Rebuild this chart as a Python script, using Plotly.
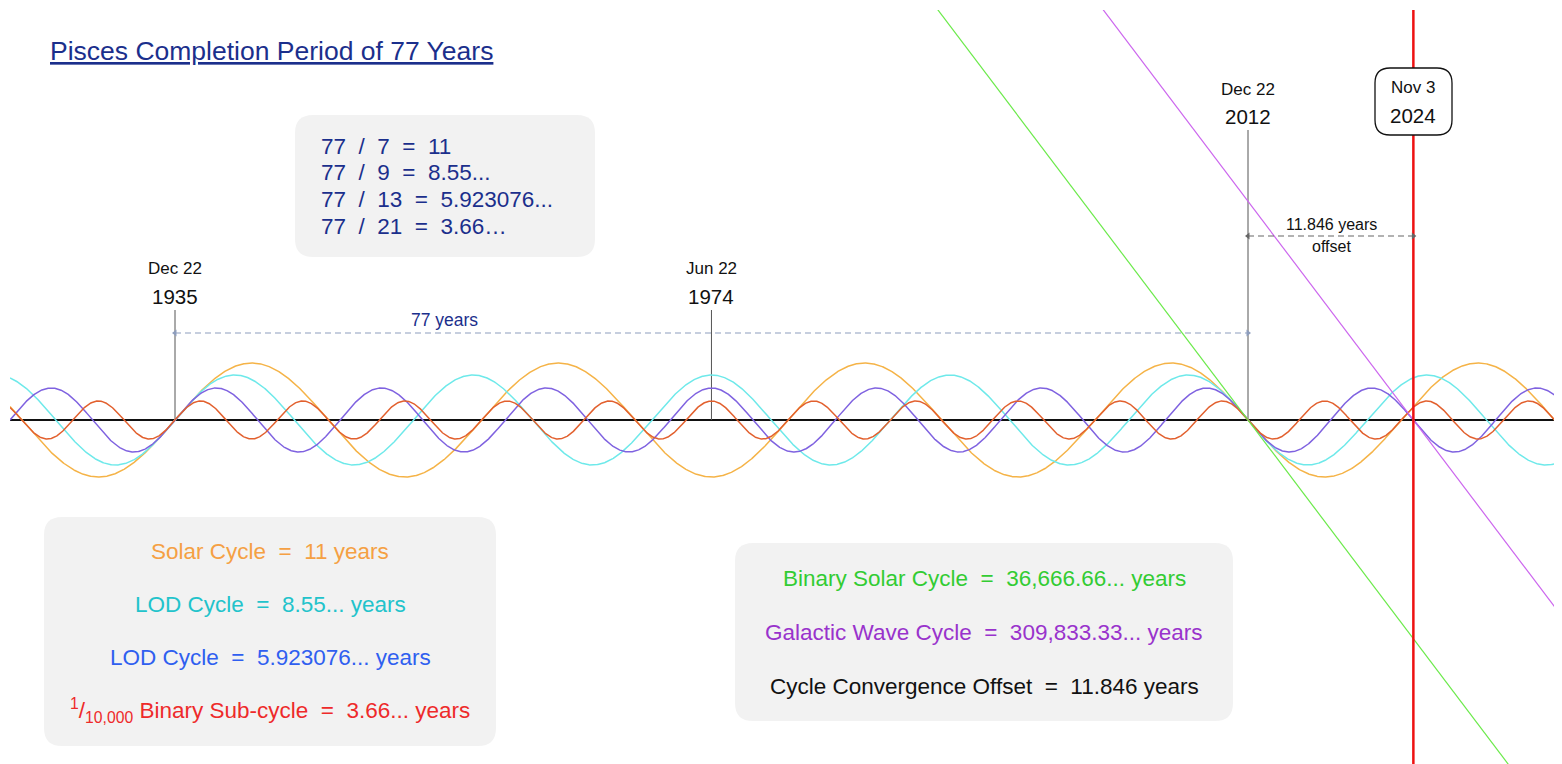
import plotly.graph_objects as go
import numpy as np

# cycle waves (half period in years = one "cycle" on the chart)
wave_names = ["Solar Cycle", "LOD Cycle", "LOD Cycle", "Binary Sub-cycle"]
half_periods = [77 / 7, 77 / 9, 77 / 13, 77 / 21]
amplitudes = [57, 45, 32, 19]
wave_colors = ["#f5b347", "#6ee9ea", "#7f62e0", "#e2602e"]

# key dates (decimal years)
start_year = 1935.973
event_years = [1935.973, 1974.47, 2012.973, 2024.84]
event_days = ["Dec 22", "Jun 22", "Dec 22", "Nov 3"]
event_labels = ["1935", "1974", "2012", "2024"]

# slow cycles drawn as straight lines crossing zero at 2012 and 2024
diag_cross = [2012.973, 2024.84]
diag_slope = -18.43
diag_colors = ["#6bea4a", "#cc66ee"]

formula_lines = ["77  /  7  =  11", "77  /  9  =  8.55...", "77  /  13  =  5.923076...",
                 "77  /  21  =  3.66…"]
left_legend = ["Solar Cycle  =  11 years", "LOD Cycle  =  8.55... years",
               "LOD Cycle  =  5.923076... years",
               "<sup>1</sup>/<sub>10,000</sub> Binary Sub-cycle  =  3.66... years"]
left_colors = ["#f5a043", "#22c3cb", "#2f5ff0", "#ee2a2a"]
right_legend = ["Binary Solar Cycle  =  36,666.66... years",
                "Galactic Wave Cycle  =  309,833.33... years",
                "Cycle Convergence Offset  =  11.846 years"]
right_colors = ["#33cc33", "#9933cc", "#111111"]

# pixel helpers (plot area is 10..1562 x 10..764 on the page)
SCALE = 1073 / 77.0


def yr(px):
    return start_year + (px - 175) / SCALE


def yv(py):
    return 420 - py


def nb(s):
    return s.replace("  ", "\u00a0\u00a0")


def rounded(x0, y0, x1, y1, r):
    pts = [("M", [(x0 + r, y0)]), ("L", [(x1 - r, y0)]), ("Q", [(x1, y0), (x1, y0 + r)]),
           ("L", [(x1, y1 - r)]), ("Q", [(x1, y1), (x1 - r, y1)]), ("L", [(x0 + r, y1)]),
           ("Q", [(x0, y1), (x0, y1 - r)]), ("L", [(x0, y0 + r)]), ("Q", [(x0, y0), (x0 + r, y0)])]
    out = ""
    for cmd, ps in pts:
        out += cmd + " " + " ".join("%f,%f" % (yr(a), yv(b)) for a, b in ps) + " "
    return out + "Z"


x_lo, x_hi = yr(10), yr(1555)
t = np.linspace(x_lo, x_hi, 3000)

fig = go.Figure()

# zero line
fig.add_trace(go.Scatter(x=[x_lo, x_hi], y=[0, 0], mode="lines",
                         line=dict(color="#111111", width=2), hoverinfo="skip"))

# event verticals
tops = [yv(310), yv(310), yv(130)]
for ex, top in zip(event_years[:3], tops):
    fig.add_trace(go.Scatter(x=[ex, ex], y=[0, top], mode="lines",
                             line=dict(color="#555555", width=1), hoverinfo="skip"))

for hp, amp, col in zip(half_periods, amplitudes, wave_colors):
    fig.add_trace(go.Scatter(x=t, y=amp * np.sin(np.pi * (t - start_year) / hp), mode="lines",
                             line=dict(color=col, width=1.5), hoverinfo="skip"))

for xc, col in zip(diag_cross, diag_colors):
    fig.add_trace(go.Scatter(x=[x_lo, x_hi], y=[diag_slope * (x_lo - xc), diag_slope * (x_hi - xc)],
                             mode="lines", line=dict(color=col, width=1.2), hoverinfo="skip"))

# red convergence line
fig.add_trace(go.Scatter(x=[event_years[3]] * 2, y=[yv(764), yv(10)], mode="lines",
                         line=dict(color="#ee1111", width=2.5), hoverinfo="skip"))

# dashed span arrows
spans = [(event_years[0], event_years[2], yv(333), "#8d9dbd"),
         (event_years[2], event_years[3], yv(236), "#666666")]
for a, b, yy, col in spans:
    fig.add_trace(go.Scatter(x=[a, b], y=[yy, yy], mode="lines+markers",
                             line=dict(color=col, width=1.2, dash="6px,4px"),
                             marker=dict(symbol=["triangle-left", "triangle-right"], size=6,
                                         color=col), hoverinfo="skip"))

shapes = [
    dict(type="path", path=rounded(295, 115, 595, 257, 18), fillcolor="#f2f2f2",
         line=dict(width=0), layer="below"),
    dict(type="path", path=rounded(44, 517, 496, 746, 18), fillcolor="#f2f2f2",
         line=dict(width=0), layer="below"),
    dict(type="path", path=rounded(735, 543, 1233, 721, 18), fillcolor="#f2f2f2",
         line=dict(width=0), layer="below"),
    dict(type="path", path=rounded(1375, 68, 1452, 135, 15), fillcolor="white",
         line=dict(width=1.3, color="#111111"), layer="above"),
]

ann = []
ann.append(dict(x=yr(48), y=yv(51), xanchor="left", yanchor="middle", showarrow=False,
                text="Pisces Completion Period of 77 Years",
                font=dict(size=26.5, color="#1b2f8c", lineposition="under")))

for i, line in enumerate(formula_lines):
    ann.append(dict(x=yr(319), y=yv(146 + 26.7 * i), xanchor="left", yanchor="middle",
                    showarrow=False, text=nb(line), font=dict(size=22.5, color="#1b2f8c")))

day_y = [268, 268, 89, 87]
year_y = [296, 296, 116, 115]
for ex, d, lab, dy, yy in zip(event_years, event_days, event_labels, day_y, year_y):
    ann.append(dict(x=ex, y=yv(dy), showarrow=False, text=d, font=dict(size=17, color="#111111")))
    ann.append(dict(x=ex, y=yv(yy), showarrow=False, text=lab, font=dict(size=20.5, color="#111111")))

ann.append(dict(x=yr(444), y=yv(320), showarrow=False, text="77 years",
                font=dict(size=17.5, color="#1b2f8c")))
ann.append(dict(x=yr(1331), y=yv(224), showarrow=False, text="11.846 years",
                font=dict(size=16, color="#111111")))
ann.append(dict(x=yr(1331), y=yv(246), showarrow=False, text="offset",
                font=dict(size=16, color="#111111")))

for i, (txt, col) in enumerate(zip(left_legend, left_colors)):
    ann.append(dict(x=yr(270), y=yv(551 + 53 * i), showarrow=False, text=nb(txt),
                    font=dict(size=22.5, color=col)))
for i, (txt, col) in enumerate(zip(right_legend, right_colors)):
    ann.append(dict(x=yr(984), y=yv(578 + 54 * i), showarrow=False, text=nb(txt),
                    font=dict(size=22.5, color=col)))

# page body adds an 8px offset, so the figure is shrunk by that much
fig.update_layout(
    width=1554, height=756,
    margin=dict(l=2, r=0, t=2, b=0),
    paper_bgcolor="white", plot_bgcolor="white",
    showlegend=False,
    font=dict(family="Liberation Sans, Arial, sans-serif"),
    xaxis=dict(range=[x_lo, yr(1562)], visible=False, fixedrange=True),
    yaxis=dict(range=[yv(764), yv(10)], visible=False, fixedrange=True),
    shapes=shapes,
    annotations=ann,
)

fig.write_html("out.html")
